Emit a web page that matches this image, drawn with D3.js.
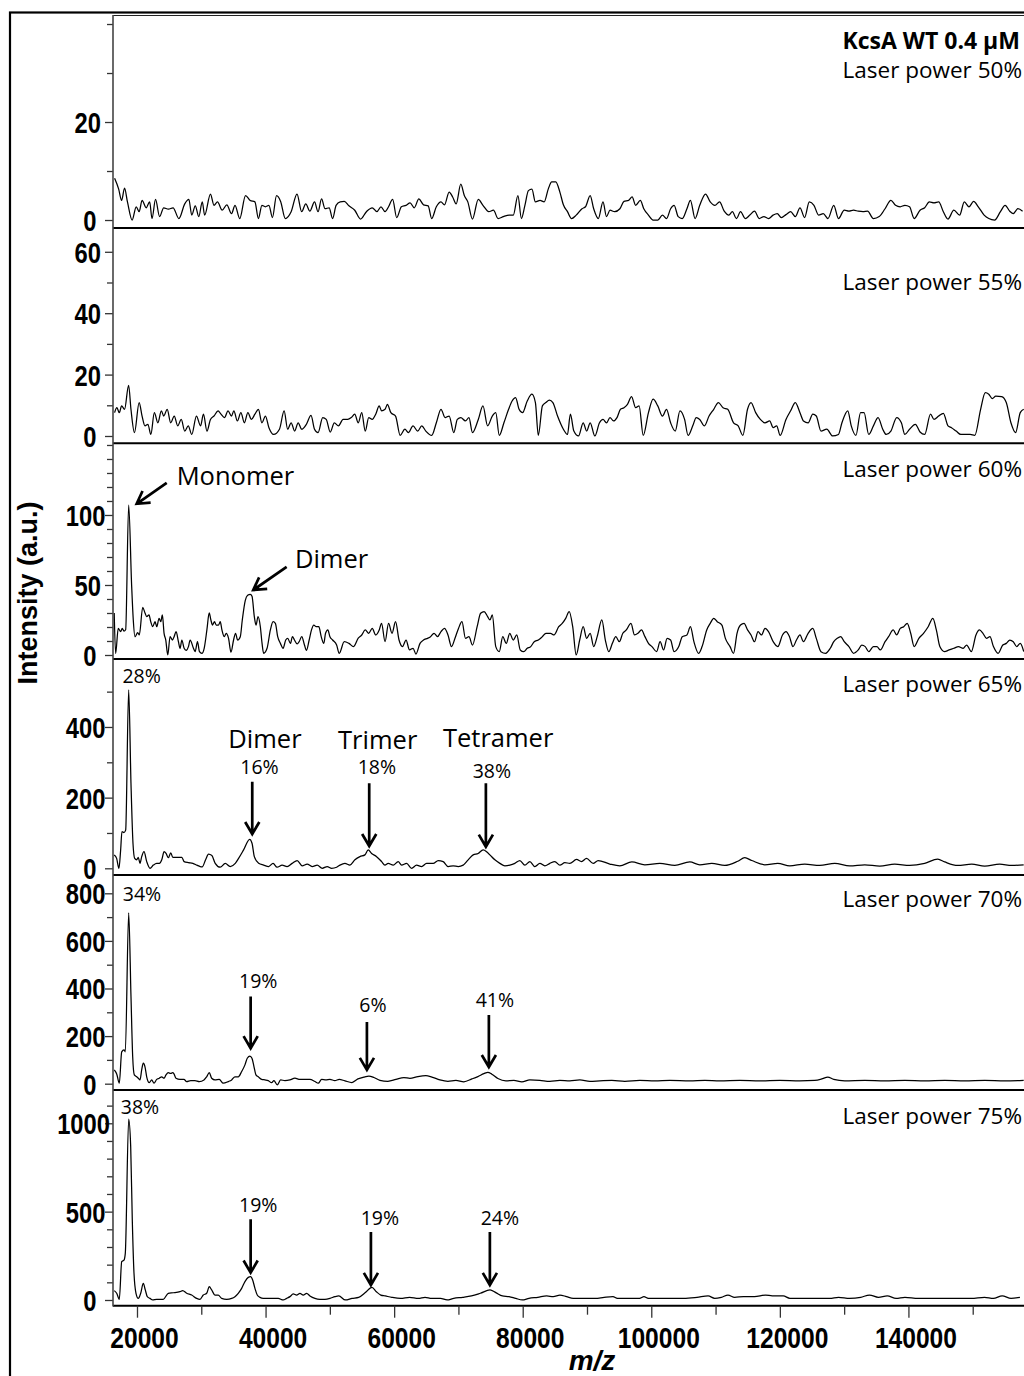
<!DOCTYPE html>
<html><head><meta charset="utf-8">
<script src="https://cdn.jsdelivr.net/npm/d3@7"></script>
<style>body{margin:0;background:#fff}svg{display:block}</style>
</head><body>
<svg id="c" width="1024" height="1376"></svg>
<script>
// ---------------- DATA ----------------
const laserLabels = ["Laser power 50%","Laser power 55%","Laser power 60%","Laser power 65%","Laser power 70%","Laser power 75%"];
const sampleTitle = "KcsA WT 0.4 µM";

// spectra: [m/z, intensity]
const spec50 = [[16515,8.5],[17152,6.3],[17607,4.0],[18062,6.5],[18516,3.7],[19244,0],[19880,2.7],[20335,1.7],[20790,4.0],[21426,2.5],[21972,3.7],[22336,0.3],[22881,4.2],[23518,0.7],[24155,2.5],[24882,2.2],[25610,2.5],[26519,0.3],[27428,3.3],[28065,4.2],[28520,1.0],[29065,2.9],[29611,0.7],[30157,3.7],[30520,1.0],[31430,5.3],[31975,3.0],[32521,3.7],[33248,2.0],[33976,3.1],[34704,1.3],[35249,3.0],[35977,0.3],[36886,5.0],[37614,4.0],[38341,3.7],[38887,0.3],[39432,3.0],[39978,2.7],[40524,3.0],[41069,0.5],[41706,5.0],[42343,3.8],[43070,0.3],[43979,1.7],[44889,5.3],[45616,1.7],[46253,3.3],[46889,1.8],[47617,3.7],[48163,1.7],[48708,4.3],[49254,2.3],[49890,2.5],
[50428,0.3],[50972,3.0],[51607,3.7],[52241,3.8],[52967,2.9],[53873,2.0],[54780,0.2],[55686,1.7],[56593,2.5],[57318,1.7],[57952,2.7],[58587,1.7],[59131,2.7],[59765,4.2],[60400,0.5],[61125,2.7],[61850,3.0],[62485,3.5],[63119,2.5],[63845,4.3],[64570,3.1],[65295,2.9],[65839,0.3],[66564,2.7],[67289,3.7],[67833,3.1],[68558,5.7],[69102,4.7],[69646,3.3],[70371,7.3],[70915,5.0],[71459,3.7],[72184,0.2],[73091,4.2],[73816,3.0],[74723,1.7],[75448,2.0],[76173,0.3],[76989,0.7],[77895,1.0],[78530,1.0],[79255,5.0],[79799,0.3],[80343,3.0],[80887,6.0],[81431,6.3],[81975,3.7],[82700,4.0],[83334,3.7],[83969,6.3],[84513,7.8],[85147,7.8],[85782,5.7],[86326,3.1],[86960,1.7],[87595,0.3],[88320,1.0],[89227,2.3],[89770,2.7],[90496,5.0],[91040,2.3],[91765,0.3],[92490,3.7],[93034,0.7],[93578,2.0],[94303,1.7],[95119,2.3],[95753,3.8],[96479,4.0],[97022,4.7],[97566,3.0],[98292,4.0],[98835,2.3],[99561,1.0],[100286,0],[101011,0],[101736,1.0],[102371,0.3],[103005,2.3],[103549,3.0],[104184,0.7],[104818,0.3],[105544,2.3],[106087,4.0],[106813,0.3],[107538,3.0],[108444,5.3],[109170,3.7],[109895,3.0],[110620,3.7],[111345,1.8],[112070,1.0],[112614,1.7],[113249,0.3],[113883,1.7],[114609,0.3],[115334,1.0],[116059,1.8],[116784,0.3],[117509,0.7],[118235,0.3],[118960,1.0],[119594,1.3],[120229,0.5],[120954,1.1],[121679,1.7],[122404,0.7],[123130,2.5],[123855,0.5],[124580,3.7],[125305,3.0],[126030,1.0],[126756,1.3],[127481,0.3],[128387,3.0],[129113,0.3],[130019,2.0],[130744,1.8],[131469,2.0],[132195,1.8],[132920,1.7],[133645,1.8],[134552,0.3],[135458,0.7],[136365,2.3],[137271,4.0],[137996,3.0],[138721,2.7],[139447,3.0],[140172,2.7],[140897,0.3],[141804,2.0],[142529,2.5],[143254,3.7],[143979,3.5],[144704,3.7],[145430,1.7],[146155,0.2],[147061,2.0],[147968,1.0],[148693,3.7],[149418,2.7],[150143,3.8],[150869,2.7],[151775,1.0],[152500,0.3],[153407,0],[154313,1.7],[155038,3.0],[155764,1.8],[156308,1.3],[157033,2.3],[157758,1.8]];

const spec55 = [[16515,7.6],[16879,9.2],[17243,7.6],[17607,9.8],[18062,8.7],[18698,16.5],[19062,8.7],[19607,1.1],[20335,10.9],[20790,6.5],[21244,3.3],[21699,3.8],[22154,0.5],[22699,7.6],[23245,4.3],[23791,8.2],[24155,6.5],[24700,8.7],[25246,4.3],[25791,6.5],[26337,3.3],[26883,5.4],[27428,1.6],[27974,3.3],[28520,0.5],[29247,6.5],[29884,3.3],[30338,7.1],[30884,1.6],[31430,5.4],[31975,6.5],[32612,8.2],[33067,7.1],[33612,6.0],[34158,8.2],[34704,6.5],[35067,8.2],[35613,4.9],[36159,7.6],[36704,4.3],[37250,7.6],[37795,5.4],[38341,7.1],[38887,8.7],[39432,4.3],[39978,6.5],[40524,2.7],[41251,0.5],[42161,2.2],[42888,8.2],[43434,2.2],[43979,4.3],[44525,1.6],[45071,4.3],[45616,2.2],[46344,3.8],[47071,6.7],[47617,2.2],[48163,1.1],[48890,6.0],[49436,5.4],
[50066,1.3],[50700,4.3],[51335,3.3],[52060,5.4],[52785,5.4],[53329,6.0],[53873,7.1],[54417,4.3],[54961,7.6],[55505,1.6],[56049,6.0],[56593,5.4],[57136,7.1],[57680,9.8],[58043,8.2],[58587,8.7],[58949,10.3],[59493,7.6],[60219,6.5],[60944,0.2],[61669,2.2],[62213,1.1],[62938,3.3],[63663,1.6],[64298,3.3],[64932,1.6],[65839,0.2],[66564,4.3],[67289,8.7],[67924,6.0],[68558,6.5],[69284,1.1],[69827,5.4],[70371,6.0],[71097,4.9],[71640,6.0],[72184,1.1],[73091,5.4],[73816,9.8],[74541,3.3],[75266,6.5],[75810,7.6],[76354,0.2],[77079,4.3],[77805,8.7],[78349,11.4],[78892,12.5],[79436,8.7],[79980,7.6],[80705,11.4],[81431,13.6],[81975,10.9],[82428,0.2],[83062,9.8],[83606,10.9],[84150,11.7],[84694,10.9],[85419,6.5],[86326,2.2],[86960,0.5],[87414,7.1],[87957,1.6],[88683,0],[89408,4.3],[89952,1.6],[90496,4.3],[91221,0],[91946,4.3],[92490,5.4],[93034,4.3],[93578,6.0],[94122,4.9],[94666,6.0],[95209,8.7],[95753,9.2],[96297,10.3],[96932,12.8],[97566,9.2],[98110,9.8],[98745,0.2],[99561,7.6],[100286,12.0],[101011,9.8],[101736,6.5],[102371,8.7],[103005,4.3],[103731,1.6],[104456,8.2],[105181,5.4],[105725,0.2],[106450,3.3],[106994,6.0],[107538,5.4],[108263,3.3],[108988,6.5],[109713,8.7],[110439,10.9],[111164,9.2],[111889,8.7],[112796,4.3],[113521,3.3],[114246,0.2],[114971,8.7],[115515,10.9],[116240,7.6],[116965,5.4],[117691,4.3],[118416,4.9],[118960,2.7],[119504,3.3],[120048,0.2],[120954,5.4],[121679,8.2],[122404,10.9],[123130,7.6],[123674,4.9],[124399,4.3],[125124,7.1],[125668,6.5],[126393,1.6],[127300,2.2],[128206,0],[129113,0.5],[129656,4.3],[130563,8.2],[131107,3.3],[131832,0.2],[132557,7.6],[133101,7.6],[133826,0.5],[134552,3.3],[135277,6.0],[136002,2.2],[136546,0.5],[137271,1.6],[138178,6.0],[138903,4.3],[139447,0.5],[140172,2.2],[141078,3.8],[141804,1.3],[142529,0.5],[143435,7.1],[143979,5.4],[144704,6.5],[145430,7.4],[146155,3.3],[146699,2.7],[147424,1.6],[148149,0.5],[148874,0.5],[149599,0.5],[150325,0.2],[151231,8.7],[151956,14.1],[152500,13.6],[153044,12.2],[153588,13.0],[154495,12.8],[155220,10.9],[155945,4.3],[156670,1.1],[157395,7.6],[157939,8.7]];

const spec60 = [[16459,30],[16677,1],[17083,19],[17457,16.7],[17707,19],[17972,17],[18237,18],[18705,107],[19173,49],[19423,25],[19688,13],[20109,16],[20359,14.3],[20889,34],[21248,30],[21513,27.4],[21872,28.6],[22137,23.8],[22449,20.2],[22808,23.8],[23073,20.2],[23432,26.2],[23697,23.8],[23947,28.6],[24212,15.5],[24477,10.7],[24789,0],[25148,13.1],[25507,10.7],[25772,13.1],[26084,16.7],[26443,9.5],[26708,4.8],[26973,10.7],[27332,4.8],[27644,3.3],[28003,6.0],[28268,10.7],[28783,4.8],[29048,2.4],[29407,9.5],[29719,2.4],[30093,1.2],[30452,4.8],[30873,17.9],[31232,30],[31497,25],[31747,21.4],[32059,23.8],[32324,21.4],[32683,21.4],[32948,23.8],[33213,17.9],[33572,13.1],[33884,15.5],[34243,11.9],[34617,2],[35023,10.7],[35335,15.5],[35647,10.7],[36068,13.1],[36380,25],[36848,39],[37207,42.6],[37628,43.3],[37893,41.9],[38252,27.4],[38517,21.4],[38829,27.4],[39188,20.2],[39453,8.3],[39703,1.2],[40233,4.8],[40748,17.9],[41169,23.8],[41528,22.6],[41887,13.1],[42308,8.3],[42729,4.8],[43135,10.7],[43447,11.9],[43868,8.3],[44180,13.1],[44492,10.7],[44913,7.9],[45225,9.5],[45631,13.1],[46052,7.1],[46364,3.3],[46785,10.7],[47144,17.9],[47503,21.4],[47877,20.2],[48283,20.2],[48657,13.1],[49063,8.3],[49328,15.5],[49687,17.9],[50012,13.1],[50432,10.7],[51054,7.1],[51458,1.2],
[52241,9.5],[52967,8.3],[53692,6.0],[54417,12.0],[54961,14.3],[55505,17.9],[56049,15.5],[56593,19.0],[57136,14.3],[57680,17.9],[58043,22.6],[58587,9.5],[59131,22.6],[59675,15.5],[60219,23.8],[60762,10.7],[61306,6.0],[61850,10.7],[62394,3.6],[62938,4.8],[63391,0.7],[64026,8.3],[64570,10.7],[65204,11.9],[65658,13.1],[66201,15.5],[66745,13.1],[67289,16.7],[67833,19.0],[68377,14.3],[68921,6.0],[69465,11.9],[70009,19.0],[70553,23.8],[71097,11.9],[71640,13.1],[72184,7.1],[72910,20.2],[73453,29.8],[73997,31.0],[74541,27.4],[74904,25.0],[75266,28.6],[75810,6.0],[76354,2.4],[76898,13.1],[77442,8.3],[77986,15.5],[78530,10.7],[79074,14.3],[79618,3.6],[80162,2.4],[80705,4.8],[81249,6.0],[81793,9.5],[82428,10.7],[83062,13.1],[83606,15.5],[84331,15.5],[84875,14.3],[85601,20.2],[86144,22.6],[86688,26.2],[87232,31.0],[87776,20.2],[88320,0],[88864,10.7],[89408,20.2],[89952,11.9],[90496,15.5],[91040,6.0],[91583,13.1],[92309,25.0],[92853,10.7],[93396,2.4],[93940,8.3],[94484,13.1],[95028,9.5],[95572,15.5],[96116,17.9],[96841,22.6],[97385,14.3],[97929,15.5],[98473,17.9],[99017,13.1],[99561,8.3],[100105,6.0],[100830,2.4],[101374,9.5],[101918,3.6],[102461,11.9],[103005,10.7],[103549,2.4],[104274,6.0],[104818,13.1],[105544,14.3],[106087,20.2],[106631,9.5],[107357,1.2],[107900,6.0],[108626,17.9],[109170,22.6],[109713,26.2],[110257,23.8],[110983,21.4],[111526,11.9],[112252,6.0],[112796,1.2],[113339,15.5],[113883,21.4],[114427,22.6],[114971,17.9],[115515,14.3],[116059,9.5],[116603,16.7],[117147,14.3],[117691,19.0],[118235,16.7],[118960,9.5],[119685,6.0],[120410,14.3],[120954,16.7],[121498,13.1],[122042,6.0],[122586,10.7],[123130,14.3],[123674,9.5],[124399,15.5],[125124,19.0],[125668,11.9],[126393,2.4],[127118,1.2],[127843,4.8],[128387,9.5],[128931,11.9],[129475,13.1],[130019,9.5],[130744,6.0],[131469,1.2],[132195,3.6],[132739,7.1],[133282,6.0],[133826,2.4],[134552,6.0],[135095,6.0],[135639,3.6],[136365,9.5],[136908,13.1],[137634,17.9],[138178,14.3],[138721,19.0],[139265,20.2],[139809,22.6],[140353,15.5],[140897,6.0],[141622,11.9],[142347,15.5],[143073,20.2],[143798,26.2],[144342,17.9],[144886,6.0],[145611,2.4],[146336,3.6],[147061,4.8],[147786,6.0],[148512,4.8],[149056,7.1],[149781,2.4],[150506,14.3],[151050,17.9],[151594,15.5],[152138,11.9],[152682,13.1],[153225,6.0],[153951,1.2],[154676,7.1],[155220,8.3],[155764,10.7],[156308,9.5],[156851,6.0],[157395,8.3],[157939,2.4]];

const spec65 = [[16459,38],[16833,28],[17192,0],[17457,52],[17660,104],[17972,101],[18237,108],[18705,505],[19064,241],[19376,71],[19641,28],[19953,24],[20203,31],[20468,14],[20733,33],[21092,47],[21513,19],[22028,0],[22543,9],[23073,14],[23479,14],[23853,24],[24212,47],[24524,42],[24883,30],[25257,44],[25569,31],[26193,31],[26973,31],[27332,19],[28003,16],[28689,14],[29313,9],[29828,5],[30140,4],[30686,25],[31123,40],[31653,36],[32168,14],[32948,3],[33728,14],[34508,5],[35288,14],[35803,28],[36583,52],[37519,82],[37893,71],[38252,33],[38923,14],[39703,9],[40483,5],[41169,14],[41793,3],[42573,9],[43353,5],[44133,14],[44913,22],[45693,7],[46473,12],[47253,5],[48033,9],[48813,0],[49593,5],[50276,0],[51053,3],[51567,9],[52344,14],[53122,9],[53899,24],[54677,33],[55454,38],[55967,52],[56496,42],[57273,33],[58051,19],[58564,9],[59077,14],[59855,9],[60632,19],[61161,9],[61938,14],[62716,0],[63493,9],[64271,5],[65048,14],[66075,14],[66852,22],[67630,19],[68407,5],[69185,7],[69962,5],[70740,9],[71517,24],[72295,38],[73072,42],[73850,52],[74378,47],[74892,38],[75669,24],[76447,14],[77224,7],[78002,9],[78779,14],[79557,22],[80334,9],[81112,19],[81889,5],[82667,14],[83444,7],[84222,14],[84999,19],[85777,9],[86554,16],[87332,14],[88373,25],[89151,19],[89928,28],[90955,14],[91732,22],[93552,12],[95107,7],[96973,18],[98994,10],[101327,14],[103659,8],[105992,18],[107547,10],[109413,14],[111434,8],[113456,20],[114544,30],[115633,22],[117654,10],[119676,14],[121542,7],[123874,12],[126207,8],[128539,14],[130872,7],[133204,10],[135537,6],[137869,12],[140202,8],[142534,14],[144556,26],[145644,18],[147666,8],[149843,12],[151864,6],[154197,12],[156063,8],[157929,10]];

const spec70 = [[16470,58],[16843,41],[17248,2],[17621,134],[17979,142],[18181,134],[18709,718],[19067,365],[19331,113],[19580,37],[19953,29],[20202,23],[20467,16],[20731,58],[20980,86],[21244,71],[21508,29],[21913,4],[22286,16],[22644,2],[23063,18],[23468,23],[23841,29],[24199,23],[24510,37],[24867,46],[25240,43],[25551,46],[25754,41],[26065,23],[26687,18],[27309,18],[27728,9],[28350,13],[29019,13],[29688,9],[30419,16],[30838,29],[31243,46],[31616,23],[32129,16],[32798,18],[33420,2],[34197,9],[34726,16],[35239,29],[35752,29],[36281,51],[36794,79],[37152,107],[37572,116],[37883,107],[38194,72],[38505,37],[38862,29],[39391,18],[39904,16],[40417,13],[40946,4],[41304,13],[41817,-5],[42345,16],[43014,13],[43792,16],[44569,23],[45347,18],[46124,18],[46902,18],[47679,9],[48193,2],[48721,18],[49390,16],[50012,18],[50789,13],[51458,18],[52344,12],[53433,5],[54366,20],[55299,28],[56076,32],[56854,26],[57787,14],[59031,10],[60275,18],[61519,26],[62452,22],[63696,30],[64940,34],[65873,28],[67117,16],[68361,10],[69605,14],[70849,8],[72093,20],[73026,30],[73959,42],[74581,48],[75203,40],[76136,22],[77380,12],[78624,14],[79868,8],[81112,16],[82667,14],[84222,10],[85777,14],[87332,12],[88887,16],[90442,10],[91997,12],[93863,14],[95884,10],[98217,14],[100549,12],[102882,14],[105992,12],[108324,14],[110657,12],[113767,14],[116877,12],[119987,14],[123097,12],[125429,14],[126518,20],[127451,28],[128384,18],[130094,12],[133204,14],[136314,12],[139424,14],[142534,12],[145644,14],[148754,12],[151864,14],[154974,12],[157929,14]];

const spec75 = [[16470,53],[16843,38],[17248,4],[17621,217],[17979,226],[18181,264],[18709,1023],[19020,868],[19269,453],[19534,151],[19845,38],[20202,9],[20575,38],[20980,94],[21291,57],[21602,19],[22022,9],[22441,0],[23063,4],[24090,4],[24867,38],[25645,41],[26687,47],[27106,53],[27728,38],[28506,28],[29283,9],[29797,4],[30310,28],[30838,38],[31243,75],[31616,57],[32129,28],[32642,28],[33171,9],[33948,4],[34726,9],[35239,19],[35752,38],[36281,66],[36794,104],[37307,128],[37680,132],[37991,113],[38349,66],[38707,28],[39127,15],[39640,9],[40417,9],[41195,9],[41972,9],[42750,0],[43278,9],[43792,19],[44305,34],[44833,28],[45347,38],[45860,28],[46388,38],[46902,23],[47679,9],[48457,4],[49234,4],[50012,9],[50789,19],[51388,23],[52420,0],[53452,9],[54484,15],[55516,42],[56548,72],[57236,47],[57924,28],[58612,23],[59644,15],[61020,9],[62396,15],[63772,9],[64804,15],[65836,9],[67212,9],[68244,0],[69276,9],[70652,15],[72028,23],[73404,38],[74918,57],[75812,42],[76844,23],[77876,19],[78908,9],[79940,0],[80972,9],[82348,15],[83724,23],[84756,19],[85788,28],[86820,19],[87852,9],[89572,9],[91292,9],[92668,15],[94044,19],[94732,9],[96108,9],[98172,9],[98860,19],[99548,9],[102300,9],[105052,9],[107116,15],[108836,23],[109868,9],[110900,15],[111932,28],[112964,15],[114340,19],[116060,19],[117780,28],[118812,23],[120532,23],[121564,9],[122940,9],[125692,9],[127756,9],[129132,15],[130852,9],[132572,15],[133948,28],[135324,15],[136700,23],[138076,9],[139452,15],[141516,9],[143580,9],[146332,9],[148396,9],[149772,9],[151836,15],[153212,9],[154588,23],[155964,9],[157340,15]];

const spectra = [spec50, spec55, spec60, spec65, spec70, spec75];

// axes values
const xDomain = [16268, 160000];
const xTickValues = [20000, 40000, 60000, 80000, 100000, 120000, 140000];
const xMinorTickValues = [30000, 50000, 70000, 90000, 110000, 130000, 150000];
const yDomains = [[-1.63, 41.84], [-2.38, 67.75], [-2.86, 151.2], [-18.96, 592.4], [-26.5, 876.9], [-32.3, 1188.4]];
const yTickLabelValues = [[0, 20], [0, 20, 40, 60], [0, 50, 100], [0, 200, 400], [0, 200, 400, 600, 800], [0, 500, 1000]];
const yMinorTickValues = [[10, 30, 40], [10, 30, 50], [10,20,30,40,60,70,80,90,110,120,130,140,150], [100, 300, 500], [100, 300, 500, 700], [100,200,300,400,600,700,800,900,1100]];

// annotations (in data units of each panel)
const peakNotes = [
  {panel: 2, text: "Monomer", at: [26173, 121.4], anchor: "start", big: true},
  {panel: 2, text: "Dimer", at: [44569, 62.1], anchor: "start", big: true},
  {panel: 3, text: "Dimer", at: [39904, 339.6], anchor: "middle", big: true},
  {panel: 3, text: "Trimer", at: [57444, 337], anchor: "middle", big: true},
  {panel: 3, text: "Tetramer", at: [76182, 344], anchor: "middle", big: true},
  {panel: 3, text: "28%", at: [20731, 524], anchor: "middle"},
  {panel: 3, text: "16%", at: [39049, 267], anchor: "middle"},
  {panel: 3, text: "18%", at: [57320, 267], anchor: "middle"},
  {panel: 3, text: "38%", at: [75203, 255], anchor: "middle"},
  {panel: 4, text: "34%", at: [20778, 768], anchor: "middle"},
  {panel: 4, text: "19%", at: [38862, 401], anchor: "middle"},
  {panel: 4, text: "6%", at: [56698, 301], anchor: "middle"},
  {panel: 4, text: "41%", at: [75669, 322], anchor: "middle"},
  {panel: 5, text: "38%", at: [20467, 1051], anchor: "middle"},
  {panel: 5, text: "19%", at: [38862, 500], anchor: "middle"},
  {panel: 5, text: "19%", at: [57787, 425], anchor: "middle"},
  {panel: 5, text: "24%", at: [76447, 425], anchor: "middle"}
];
const peakArrows = [
  {panel: 2, from: [24622, 123], to: [19953, 108]},
  {panel: 2, from: [43279, 63], to: [38085, 46.4]},
  {panel: 3, from: [37929, 245], to: [37929, 97]},
  {panel: 3, from: [56123, 240.6], to: [56123, 63]},
  {panel: 3, from: [74270, 240.6], to: [74270, 61]},
  {panel: 4, from: [37680, 366], to: [37680, 149]},
  {panel: 4, from: [55765, 259], to: [55765, 58]},
  {panel: 4, from: [74736, 289], to: [74736, 70]},
  {panel: 5, from: [37680, 457], to: [37680, 155]},
  {panel: 5, from: [56387, 385], to: [56387, 85]},
  {panel: 5, from: [74892, 385], to: [74892, 85]}
];

// ---------------- LAYOUT ----------------
const plotLeft = 113, plotRight = 1037;
const panelTop = [15, 228, 443.3, 659, 875, 1090];
const panelBottom = [228, 443.3, 659, 875, 1090, 1305.7];
const laserBaseline = [78, 290, 477, 692, 907, 1124];
const numFont = "'Liberation Sans',Arial,sans-serif";
const narrow = 0.82; // horizontal squeeze to imitate a narrow bold face
const txtFont = "'Open Sans','Noto Sans',sans-serif";

const svg = d3.select("#c");
const x = d3.scaleLinear().domain(xDomain).range([plotLeft, plotRight]);

// outer frame
svg.append("rect").attr("x", 10).attr("y", 12.5).attr("width", 1100).attr("height", 1400)
  .attr("fill", "none").attr("stroke", "#000").attr("stroke-width", 2.2);

const defs = svg.append("defs");

spectra.forEach((spec, i) => {
  const y = d3.scaleLinear().domain(yDomains[i]).range([panelBottom[i], panelTop[i]]);
  const g = svg.append("g");
  defs.append("clipPath").attr("id", "clip" + i).append("rect")
    .attr("x", plotLeft).attr("y", panelTop[i]).attr("width", plotRight - plotLeft).attr("height", panelBottom[i] - panelTop[i]);

  // trace
  g.append("path").datum(spec)
    .attr("clip-path", "url(#clip" + i + ")")
    .attr("fill", "none").attr("stroke", "#000").attr("stroke-width", 1.25).attr("stroke-linejoin", "round")
    .attr("d", d3.line().curve(d3.curveMonotoneX).x(d => x(d[0])).y(d => y(d[1])));

  // panel bottom line
  g.append("line").attr("x1", plotLeft).attr("x2", 1030).attr("y1", panelBottom[i]).attr("y2", panelBottom[i])
    .attr("stroke", "#000").attr("stroke-width", 2);

  // minor ticks
  const minor = g.append("g").attr("transform", `translate(${plotLeft},0)`)
    .call(d3.axisLeft(y).tickValues(yMinorTickValues[i]).tickSize(6).tickFormat(""));
  minor.select(".domain").remove();
  minor.selectAll(".tick line").attr("stroke", "#333").attr("stroke-width", 1.3);
  // major ticks
  const major = g.append("g").attr("transform", `translate(${plotLeft},0)`)
    .call(d3.axisLeft(y).tickValues(yTickLabelValues[i]).tickSize(8).tickFormat(d3.format("d")));
  major.select(".domain").remove();
  major.selectAll(".tick line").attr("stroke", "#333").attr("stroke-width", 1.3);
  major.selectAll(".tick text")
    .attr("font-family", numFont).attr("font-weight", "bold").attr("font-size", 29).attr("fill", "#000")
    .attr("text-anchor", "end")
    .attr("transform", `scale(${narrow},1)`)
    .attr("x", d => (-16.5 + 4.5 * (String(d).length - 1)) / narrow).attr("dy", "0.36em");

  // laser label
  svg.append("text").attr("x", 1022).attr("y", laserBaseline[i]).attr("text-anchor", "end")
    .attr("font-family", txtFont).attr("font-size", 22.5).attr("fill", "#000").text(laserLabels[i]);

  // annotations
  peakNotes.filter(n => n.panel === i).forEach(n => {
    svg.append("text").attr("x", x(n.at[0])).attr("y", y(n.at[1])).attr("text-anchor", n.anchor)
      .attr("font-family", txtFont).attr("font-size", n.big ? 25.5 : 19.5).attr("fill", "#000").text(n.text);
  });
  peakArrows.filter(a => a.panel === i).forEach(a => {
    const x1 = x(a.from[0]), y1 = y(a.from[1]), x2 = x(a.to[0]), y2 = y(a.to[1]);
    const ang = Math.atan2(y2 - y1, x2 - x1), L = 14, h = 0.53;
    const p = d3.path();
    p.moveTo(x1, y1); p.lineTo(x2, y2);
    p.moveTo(x2 - L * Math.cos(ang - h), y2 - L * Math.sin(ang - h));
    p.lineTo(x2, y2);
    p.lineTo(x2 - L * Math.cos(ang + h), y2 - L * Math.sin(ang + h));
    svg.append("path").attr("d", p.toString()).attr("fill", "none").attr("stroke", "#000")
      .attr("stroke-width", 2.7).attr("stroke-linecap", "butt").attr("stroke-linejoin", "miter");
  });
});

// plot top line and y-axis line
svg.append("line").attr("x1", plotLeft).attr("x2", 1030).attr("y1", 15.5).attr("y2", 15.5).attr("stroke", "#222").attr("stroke-width", 1.2);
svg.append("line").attr("x1", plotLeft).attr("x2", plotLeft).attr("y1", 15).attr("y2", 1306.5).attr("stroke", "#444").attr("stroke-width", 1.6);

// x axis
const xBase = panelBottom[5];
const xMinor = svg.append("g").attr("transform", `translate(0,${xBase})`)
  .call(d3.axisBottom(x).tickValues(xMinorTickValues).tickSize(9).tickFormat(""));
xMinor.select(".domain").remove();
xMinor.selectAll(".tick line").attr("stroke", "#333").attr("stroke-width", 1.3);
const xMajor = svg.append("g").attr("transform", `translate(0,${xBase})`)
  .call(d3.axisBottom(x).tickValues(xTickValues).tickSize(12).tickFormat(d3.format("d")));
xMajor.select(".domain").remove();
xMajor.selectAll(".tick line").attr("stroke", "#333").attr("stroke-width", 1.3);
xMajor.selectAll(".tick text").attr("font-family", numFont).attr("font-weight", "bold").attr("font-size", 30)
  .attr("fill", "#000").attr("transform", `scale(${narrow},1)`)
  .attr("x", 7 / narrow).attr("y", 42.5).attr("dy", 0);

// titles
svg.append("text").attr("x", 1020).attr("y", 49).attr("text-anchor", "end")
  .attr("font-family", txtFont).attr("font-weight", "bold").attr("font-size", 23).attr("fill", "#000").text(sampleTitle);
svg.append("text").attr("transform", "translate(37,593) rotate(-90)").attr("text-anchor", "middle")
  .attr("font-family", "'Liberation Sans',Arial,sans-serif").attr("font-weight", "bold").attr("font-size", 27)
  .attr("fill", "#000").text("Intensity (a.u.)");
svg.append("text").attr("x", 592).attr("y", 1370).attr("text-anchor", "middle")
  .attr("font-family", "'Liberation Sans',Arial,sans-serif").attr("font-weight", "bold").attr("font-style", "italic")
  .attr("font-size", 28).attr("fill", "#000").text("m/z");
</script>
</body></html>
